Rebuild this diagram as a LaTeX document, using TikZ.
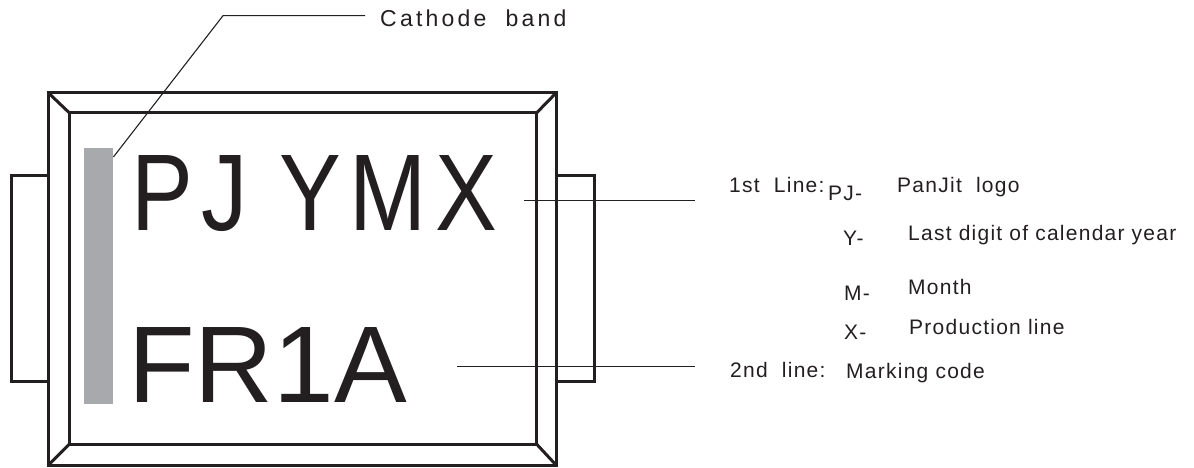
\documentclass[tikz,border=0pt]{standalone}
\usepackage{fontspec}
\setmainfont{Liberation Sans}
\newfontfamily\spacedfont[LetterSpace=6]{Liberation Sans}
\newfontfamily\widefont[LetterSpace=14]{Liberation Sans}
\newfontfamily\condfont[FakeStretch=0.85,LetterSpace=8]{Liberation Sans}
\usetikzlibrary{calc}
\definecolor{inkblack}{RGB}{35,31,32}
\definecolor{bandgray}{RGB}{167,169,172}
\tikzset{
	outline/.style={draw=inkblack, line width=3pt, line join=miter},
	leader/.style={draw=inkblack, line width=1.1pt},
	marking/.style={anchor=base west, inner sep=0pt, text=inkblack,
			font=\fontsize{109}{109}\selectfont},
	note/.style={anchor=base west, inner sep=0pt, text=inkblack,
			font=\spacedfont\fontsize{21}{21}\selectfont}
}

\begin{document}
\begin{tikzpicture}[x=1pt, y=-1pt]
	\useasboundingbox (0,0) rectangle (1194,468);
	% package body
	\draw [outline]	(48,92.5) rectangle (556.5,465.5);
	\draw [outline]	(69.5,113) rectangle (536.5,444);
	\draw [outline]	(48,92.5) -- (69.5,113)
					(556.5,92.5) -- (536.5,113)
					(48,465.5) -- (69.5,444)
					(556.5,465.5) -- (536.5,444);
	% terminals
	\draw [outline]	(48,175.5) -- (11.5,175.5) -- (11.5,381.5) -- (48,381.5);
	\draw [outline]	(556.5,175.5) -- (594,175.5) -- (594,381.5) -- (556.5,381.5);
	% cathode band
	\node [fill=bandgray, inner sep=0pt, minimum width=29pt, minimum height=256pt,
		anchor=north west] (band) at (84,148) {};
	% marking
	\node [marking, font=\condfont\fontsize{109}{109}\selectfont] (pjmark) at (131,230) {PJ};
	\node [marking, font=\condfont\fontsize{109}{109}\selectfont] (ymxmark) at (279,230) {YMX};
	\node [marking] (second) at (128,402) {FR1A};
	% labels
	\node [note, font=\widefont\fontsize{23}{23}\selectfont] (cathode) at (380,27) {Cathode\ \ band};
	\node [note] (line1) at (729,193) {1st\ \ Line:};
	\node [note] (pj) at (828,200) {PJ-};
	\node [note] (logo) at (897,192) {PanJit\ \ logo};
	\node [note] (ykey) at (843,245) {Y-};
	\node [note] (year) at (908,240) {Last digit of calendar year};
	\node [note] (mkey) at (844,300) {M-};
	\node [note] (month) at (908,294) {Month};
	\node [note] (xkey) at (844,339) {X-};
	\node [note] (prod) at (909,334) {Production line};
	\node [note] (line2) at (730,377) {2nd\ \ line:};
	\node [note] (code) at (846,378) {Marking code};
	% leaders
	\coordinate (kink) at (223,15.7);
	\coordinate (lead1) at (524,200.7);
	\coordinate (lead2) at (457,366.7);
	\draw [leader]	([yshift=-9pt]band.north east) -- (kink) -- ([xshift=-15pt]kink -| cathode.west);
	\draw [leader]	(lead1) -- ([xshift=-34pt]lead1 -| line1.west);
	\draw [leader]	(lead2) -- ([xshift=-35pt]lead2 -| line2.west);
\end{tikzpicture}
\end{document}
